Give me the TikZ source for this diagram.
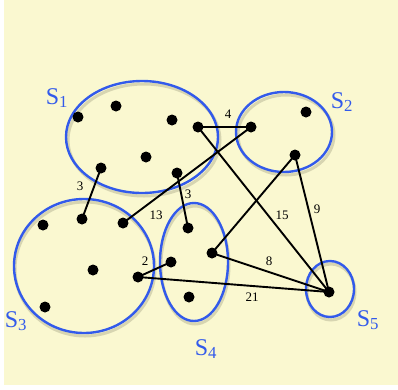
\documentclass[tikz,border=0pt]{standalone}
\usepackage{fontspec}
\setmainfont{Liberation Serif}
\definecolor{bg}{RGB}{250,248,208}
\definecolor{setblue}{RGB}{50,90,235}
\definecolor{shade}{RGB}{150,150,120}
\begin{document}
\begin{tikzpicture}[x=1pt,y=-1pt,
  setell/.style={draw=setblue,line width=2.4pt},
  setshadow/.style={draw=shade,line width=3pt,opacity=0.35},
  vtx/.style={circle,fill=black,inner sep=0pt,minimum size=11pt},
  edge/.style={draw=black,line width=1.9pt},
  wlab/.style={font=\fontsize{13}{13}\selectfont,inner sep=1pt},
  slab/.style={text=setblue,font=\fontsize{24}{24}\selectfont,inner sep=0pt}]
\fill[white] (0,0) rectangle (398,389);
\fill[bg] (4,0) rectangle (398,385);
\useasboundingbox (0,0) rectangle (398,389);
% shadows
\draw[setshadow] (144,140) ellipse [x radius=76,y radius=56];
\draw[setshadow] (286,135) ellipse [x radius=48,y radius=40];
\draw[setshadow] (85,269) ellipse [x radius=70,y radius=67];
\draw[setshadow] (195,265) ellipse [x radius=34,y radius=59];
\draw[setshadow] (331,292) ellipse [x radius=24,y radius=28];
% sets
\draw[setell] (142,137) ellipse [x radius=76,y radius=56];
\draw[setell] (284,132) ellipse [x radius=48,y radius=40];
\draw[setell] (84,266) ellipse [x radius=70,y radius=67];
\draw[setell] (194,262) ellipse [x radius=34,y radius=59];
\draw[setell] (330,289) ellipse [x radius=24,y radius=28];
% set labels
\node[slab] (l1) at (57,98) {S\textsubscript{1}};
\node[slab] (l2) at (342,102) {S\textsubscript{2}};
\node[slab] (l3) at (16,321) {S\textsubscript{3}};
\node[slab] (l4) at (206,349) {S\textsubscript{4}};
\node[slab] (l5) at (368,320) {S\textsubscript{5}};
% vertices S1
\node[vtx] (a1) at (78,117) {};
\node[vtx] (a2) at (116,106) {};
\node[vtx] (a3) at (172,120) {};
\node[vtx] (a4) at (198,127) {};
\node[vtx] (a5) at (146,157) {};
\node[vtx] (a6) at (101,168) {};
\node[vtx] (a7) at (177,173) {};
% S2
\node[vtx] (b1) at (251,127) {};
\node[vtx] (b2) at (306,112) {};
\node[vtx] (b3) at (295,155) {};
% S3
\node[vtx] (c1) at (43,225) {};
\node[vtx] (c2) at (82,219) {};
\node[vtx] (c3) at (123,223) {};
\node[vtx] (c4) at (93,270) {};
\node[vtx] (c5) at (138,277) {};
\node[vtx] (c6) at (45,307) {};
% S4
\node[vtx] (d1) at (188,228) {};
\node[vtx] (d2) at (212,253) {};
\node[vtx] (d3) at (171,262) {};
\node[vtx] (d4) at (189,297) {};
% S5
\node[vtx] (e1) at (329,292) {};
% edges
\draw[edge] (a4.center) -- (b1.center);
\draw[edge] (a4.center) -- (e1.center);
\draw[edge] (b1.center) -- (c3.center);
\draw[edge] (a6.center) -- (c2.center);
\draw[edge] (a7.center) -- (d1.center);
\draw[edge] (b3.center) -- (d2.center);
\draw[edge] (b3.center) -- (e1.center);
\draw[edge] (d2.center) -- (e1.center);
\draw[edge] (c5.center) -- (d3.center);
\draw[edge] (c5.center) -- (e1.center);
% weights
\node[wlab] (w4) at (228,114) {4};
\node[wlab] (w15) at (282,215) {15};
\node[wlab] (w13) at (156,215) {13};
\node[wlab] (w3a) at (80,186) {3};
\node[wlab] (w3b) at (188,194) {3};
\node[wlab] (w9) at (317,209) {9};
\node[wlab] (w8) at (269,261) {8};
\node[wlab] (w2) at (145,261) {2};
\node[wlab] (w21) at (252,297) {21};
\end{tikzpicture}
\end{document}
